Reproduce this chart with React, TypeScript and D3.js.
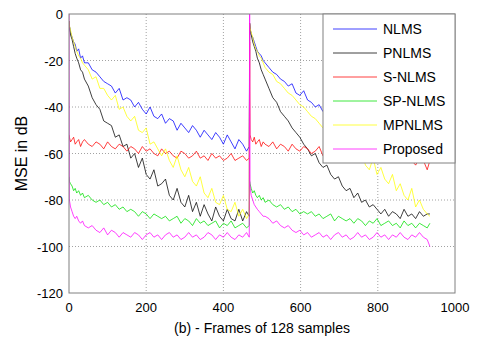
import React, { useEffect, useRef } from 'react';
import * as d3 from 'd3';

// frames of one run, the second run restarts at frame 468
const halfFrames = [0, 1, 4, 8, 12, 16, 20, 25, 30, 35, 40,
  50, 60, 70, 80, 90, 100, 110, 120, 130, 140,
  150, 160, 170, 180, 190, 200, 210, 220, 230, 240,
  250, 260, 270, 280, 290, 300, 310, 320, 330, 340,
  350, 360, 370, 380, 390, 400, 410, 420, 430, 440,
  450, 460, 467];
const restartFrame = 468;

const nlms = [
  -3, -5, -8, -10, -12, -13, -16, -15, -19, -18, -21,
  -21, -24, -25, -27, -29, -30, -31, -34, -32, -37,
  -36, -37, -40, -38, -41, -43, -40, -44, -45, -43,
  -47, -45, -46, -50, -47, -49, -51, -48, -50, -53,
  -50, -52, -54, -51, -53, -56, -52, -55, -58, -54,
  -56, -59, -57,
  -4, -6, -9, -10, -12, -14, -16, -17, -18, -20, -21,
  -23, -25, -26, -28, -29, -31, -30, -34, -35, -33,
  -37, -38, -40, -39, -42, -41, -44, -45, -43, -47,
  -46, -48, -49, -47, -51, -50, -52, -49, -53, -52,
  -54, -51, -53, -56, -53, -55, -57, -54, -56, -55,
  -58, -56, -57,
];

const pnlms = [
  -3, -5, -9, -11, -14, -17, -19, -21, -24, -25, -28,
  -31, -36, -39, -41, -46, -47, -48, -53, -52, -57,
  -56, -62, -60, -66, -62, -69, -71, -67, -74, -73,
  -71, -78, -80, -75, -81, -83, -78, -85, -81, -87,
  -82, -86, -89, -83, -87, -89, -84, -88, -89, -84,
  -89, -85, -87,
  -4, -6, -9, -12, -14, -16, -19, -21, -24, -26, -28,
  -32, -36, -38, -42, -44, -46, -49, -51, -53, -56,
  -58, -61, -60, -64, -66, -65, -69, -71, -70, -74,
  -76, -75, -79, -77, -81, -80, -83, -82, -84, -86,
  -84, -87, -85, -86, -88, -84, -87, -86, -88, -85,
  -87, -86, -86,
];

const sNlms = [
  -52, -53, -55, -54, -53, -56, -55, -54, -57, -55, -54,
  -56, -57, -55, -56, -58, -55, -57, -58, -56, -57,
  -59, -57, -58, -60, -57, -59, -58, -60, -61, -58,
  -60, -59, -61, -62, -59, -60, -62, -61, -59, -62,
  -61, -63, -60, -62, -61, -63, -62, -60, -63, -62,
  -61, -63, -62,
  -12, -52, -54, -55, -53, -56, -55, -54, -57, -55, -56,
  -57, -55, -58, -56, -57, -59, -56, -58, -59, -57,
  -58, -60, -59, -57, -61, -59, -60, -62, -59, -61,
  -60, -62, -61, -59, -62, -63, -60, -62, -61, -63,
  -62, -64, -61, -63, -62, -64, -61, -63, -65, -62,
  -63, -67, -63,
];

const spNlms = [
  -70, -72, -73, -74, -76, -75, -77, -76, -78, -77, -79,
  -78, -80, -81, -80, -82, -81, -83, -82, -84, -83,
  -85, -84, -85, -87, -85, -86, -88, -86, -87, -88,
  -87, -89, -88, -87, -90, -88, -89, -91, -88, -90,
  -89, -91, -90, -89, -92, -90, -91, -89, -92, -91,
  -90, -92, -91,
  -72, -73, -75, -77, -76, -78, -79, -78, -80, -79, -81,
  -80, -82, -83, -82, -84, -83, -85, -84, -86, -85,
  -86, -85, -87, -86, -88, -87, -86, -89, -87, -88,
  -89, -88, -90, -88, -89, -91, -89, -90, -88, -91,
  -90, -89, -91, -90, -92, -89, -91, -90, -92, -90,
  -91, -92, -90,
];

const mpnlms = [
  -3, -5, -7, -10, -12, -14, -16, -18, -19, -21, -22,
  -24, -28, -27, -32, -32, -35, -37, -35, -41, -40,
  -44, -46, -44, -50, -51, -49, -56, -55, -58, -61,
  -58, -63, -66, -61, -67, -70, -66, -72, -74, -70,
  -77, -79, -75, -81, -82, -78, -84, -85, -81, -87,
  -84, -88, -86,
  -4, -6, -8, -10, -13, -15, -16, -18, -19, -21, -23,
  -25, -26, -29, -30, -32, -34, -35, -37, -39, -40,
  -42, -44, -45, -47, -49, -50, -52, -54, -53, -56,
  -59, -56, -61, -63, -59, -65, -67, -62, -69, -66,
  -71, -73, -69, -76, -73, -78, -80, -75, -83, -80,
  -84, -86, -87,
];

const proposed = [
  0, -80, -83, -85, -87, -88, -87, -89, -90, -89, -91,
  -92, -91, -93, -94, -92, -95, -93, -94, -96, -94,
  -95, -96, -94, -95, -97, -95, -94, -96, -95, -97,
  -95, -94, -96, -95, -97, -96, -94, -96, -95, -97,
  -96, -94, -95, -97, -95, -96, -94, -96, -97, -95,
  -96, -94, -96,
  0, -74, -78, -80, -82, -83, -84, -85, -86, -87, -87,
  -88, -90, -89, -91, -92, -91, -93, -94, -93, -95,
  -94, -96, -95, -94, -96, -95, -97, -95, -94, -96,
  -95, -97, -96, -94, -96, -95, -97, -96, -94, -96,
  -95, -97, -95, -96, -94, -96, -97, -95, -96, -94,
  -96, -97, -100,
];

const seriesNames = ['NLMS', 'PNLMS', 'S-NLMS', 'SP-NLMS', 'MPNLMS', 'Proposed'];
const seriesValues = [nlms, pnlms, sNlms, spNlms, mpnlms, proposed];
const seriesColors = ['#0000ff', '#000000', '#ff0000', '#00e000', '#ffff00', '#ff00ff'];

const xTicks = [0, 200, 400, 600, 800, 1000];
const yTicks = [0, -20, -40, -60, -80, -100, -120];

const App = () => {
  const ref = useRef<SVGSVGElement>(null);

  useEffect(() => {
    const svg = d3.select(ref.current);
    svg.selectAll('*').remove();

    const left = 69, right = 455, top = 14, bottom = 293;
    const font = "'Liberation Sans', Arial, sans-serif";

    const x = d3.scaleLinear().domain([0, 1000]).range([left, right]);
    const y = d3.scaleLinear().domain([-120, 0]).range([bottom, top]);

    const frames = [...halfFrames, ...halfFrames.map(f => f + restartFrame)];

    svg.append('rect').attr('width', 480).attr('height', 343).attr('fill', '#fff');

    // grid
    const grid = svg.append('g')
      .attr('stroke', '#8a8a8a').attr('stroke-width', 0.8).attr('stroke-dasharray', '1,2');
    xTicks.slice(1, -1).forEach(t => {
      grid.append('line').attr('x1', x(t)).attr('x2', x(t)).attr('y1', top).attr('y2', bottom);
    });
    yTicks.slice(1, -1).forEach(t => {
      grid.append('line').attr('x1', left).attr('x2', right).attr('y1', y(t)).attr('y2', y(t));
    });

    svg.append('clipPath').attr('id', 'plot-clip')
      .append('rect').attr('x', left).attr('y', top).attr('width', right - left).attr('height', bottom - top);

    const line = d3.line<number>()
      .x((_, i) => x(frames[i]))
      .y(d => y(d));

    const lines = svg.append('g').attr('clip-path', 'url(#plot-clip)');
    seriesValues.forEach((vals, i) => {
      lines.append('path')
        .datum(vals)
        .attr('fill', 'none')
        .attr('stroke', seriesColors[i])
        .attr('stroke-width', 0.75)
        .attr('stroke-linejoin', 'round')
        .attr('d', line);
    });

    // axes box
    svg.append('rect')
      .attr('x', left).attr('y', top).attr('width', right - left).attr('height', bottom - top)
      .attr('fill', 'none').attr('stroke', '#808080').attr('stroke-width', 1);

    // tick labels
    xTicks.forEach(t => {
      svg.append('text').attr('x', x(t)).attr('y', 312)
        .attr('text-anchor', 'middle').attr('font-family', font).attr('font-size', 13)
        .text(t);
    });
    yTicks.forEach(t => {
      svg.append('text').attr('x', 63).attr('y', y(t) + 5)
        .attr('text-anchor', 'end').attr('font-family', font).attr('font-size', 13)
        .text(t);
    });

    svg.append('text')
      .attr('x', (left + right) / 2).attr('y', 333)
      .attr('text-anchor', 'middle').attr('font-family', font).attr('font-size', 14)
      .text('(b) - Frames of 128 samples');

    svg.append('text')
      .attr('transform', `translate(27,${(top + bottom) / 2}) rotate(-90)`)
      .attr('text-anchor', 'middle').attr('font-family', font).attr('font-size', 16)
      .text('MSE in dB');

    // legend
    const lg = svg.append('g');
    lg.append('rect')
      .attr('x', 323).attr('y', top).attr('width', right - 323).attr('height', 163 - top)
      .attr('fill', '#fff').attr('stroke', '#808080').attr('stroke-width', 1);
    seriesNames.forEach((name, i) => {
      const ly = 29 + i * 24;
      lg.append('line')
        .attr('x1', 333).attr('x2', 377).attr('y1', ly).attr('y2', ly)
        .attr('stroke', seriesColors[i]).attr('stroke-width', 0.75);
      lg.append('text')
        .attr('x', 383).attr('y', ly + 5)
        .attr('font-family', font).attr('font-size', 14)
        .text(name);
    });
  }, []);

  return (
    <svg ref={ref} width={480} height={343}
      style={{ position: 'absolute', left: 0, top: 0, display: 'block' }} />
  );
};

export default App;
